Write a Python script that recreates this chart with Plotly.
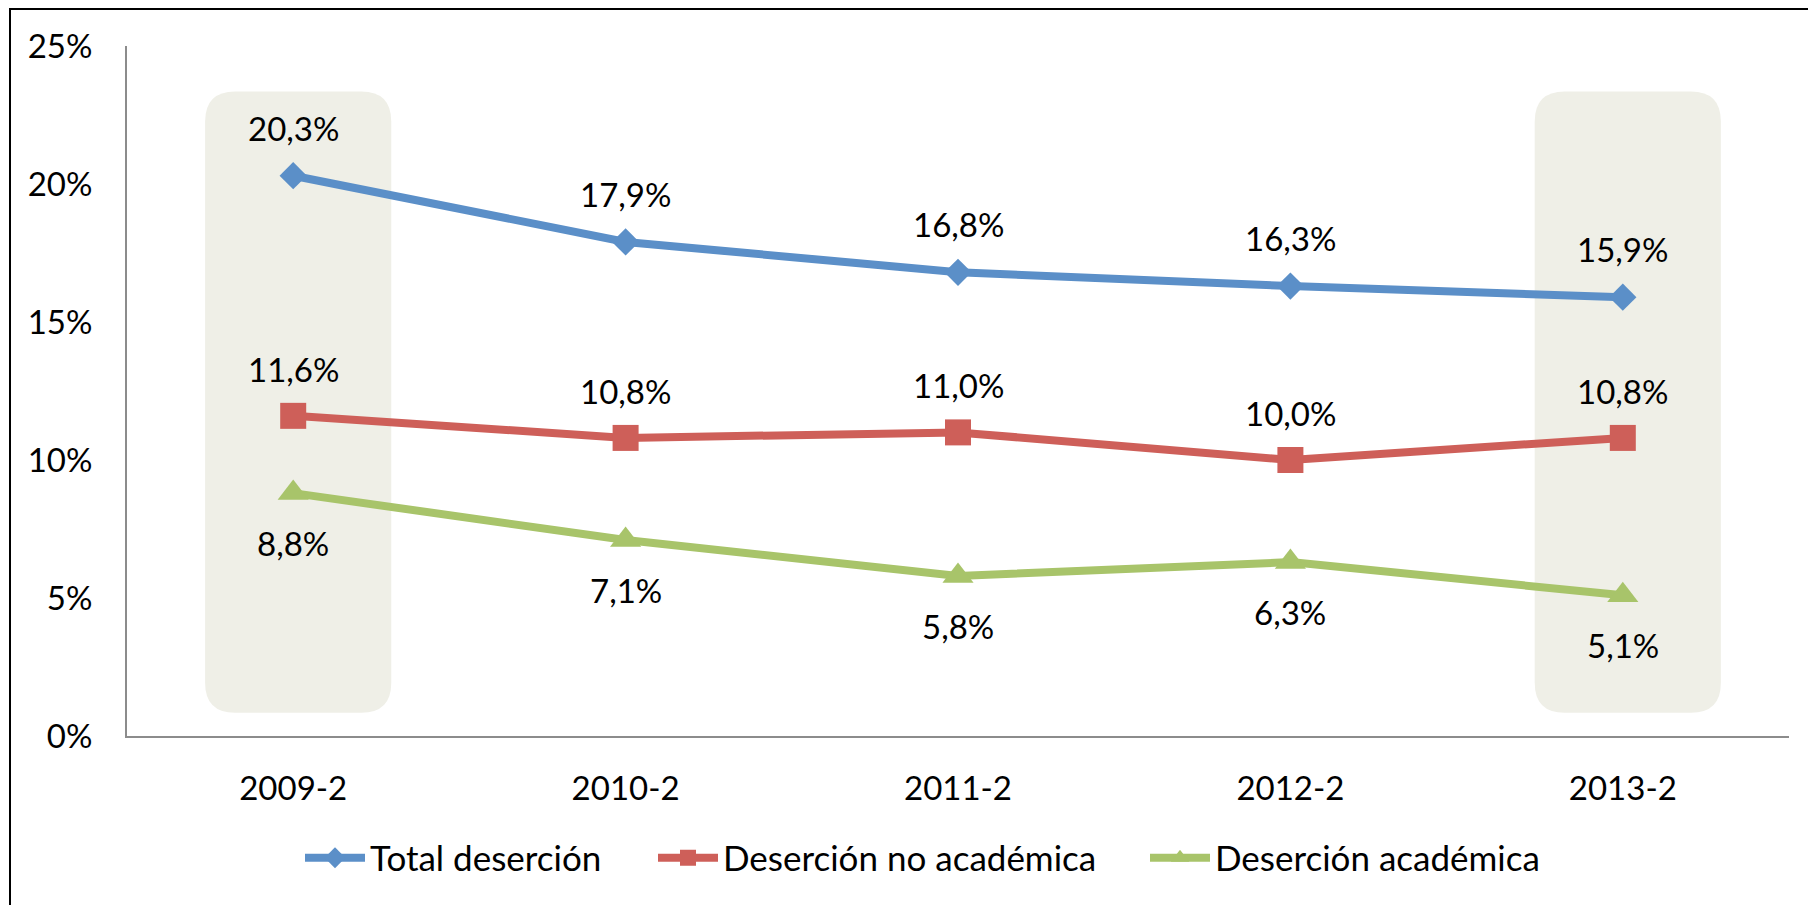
import plotly.graph_objects as go

categories = ["2009-2", "2010-2", "2011-2", "2012-2", "2013-2"]
total_desercion = [20.3, 17.9, 16.8, 16.3, 15.9]
desercion_no_academica = [11.6, 10.8, 11.0, 10.0, 10.8]
desercion_academica = [8.8, 7.1, 5.8, 6.3, 5.1]
y_ticks = [0, 5, 10, 15, 20, 25]
y_ticklabels = ["0%", "5%", "10%", "15%", "20%", "25%"]
highlighted = ["2009-2", "2013-2"]

FONT = "Lato"
FS = 33
OFF = 8  # page body margin
W, H = 1816, 905
L, T = 127 - OFF, 46 - OFF
PW, PH = 1662, 690
R, B = W - L - PW, H - T - PH

series = [
    ("Total deserción", total_desercion, "#5B8FC8", "diamond", 21, 48, "legend", 300),
    ("Deserción no académica", desercion_no_academica, "#CE5F59", "square", 26, 47, "legend2", 653),
    ("Deserción académica", desercion_academica, "#A8C46A", "triangle-up", 27, -50, "legend3", 1145),
]

xs = list(range(len(categories)))
fig = go.Figure()
annotations = []
legends = {}
leg_y = (-(858 - OFF - (T + PH))) / PH
for name, vals, color, sym, msize, shift, leg, leg_px in series:
    fig.add_trace(go.Scatter(
        x=xs, y=vals, name=name, mode="lines+markers",
        line=dict(color=color, width=8),
        marker=dict(symbol=sym, size=msize, color=color),
        legend=leg,
    ))
    legends[leg] = dict(x=(leg_px - OFF - L) / PW, xanchor="left", y=leg_y, yanchor="middle",
                        orientation="h", bgcolor="rgba(0,0,0,0)",
                        font=dict(family=FONT, size=35, color="black"), itemwidth=60)
    for xi, v in zip(xs, vals):
        annotations.append(dict(
            x=xi, y=v, text=f"{v:.1f}%".replace(".", ","), showarrow=False,
            yshift=shift, font=dict(family=FONT, size=FS, color="black"),
        ))

# rounded highlight rectangles
x_unit = PW / len(categories)
y_unit = PH / 25.0
rx, ry = 30 / x_unit, 30 / y_unit
half_w = 0.28
y0, y1 = 0.84, 23.35
shapes = []
for cat in highlighted:
    c = categories.index(cat) + 0.015
    a, b = c - half_w, c + half_w
    path = (f"M {a+rx},{y0} L {b-rx},{y0} Q {b},{y0} {b},{y0+ry} "
            f"L {b},{y1-ry} Q {b},{y1} {b-rx},{y1} L {a+rx},{y1} "
            f"Q {a},{y1} {a},{y1-ry} L {a},{y0+ry} Q {a},{y0} {a+rx},{y0} Z")
    shapes.append(dict(type="path", path=path, xref="x", yref="y",
                       fillcolor="#EFEFE7", line=dict(width=0), layer="below"))

# outer chart border
shapes.append(dict(type="rect", xref="paper", yref="paper",
                   x0=(10 - OFF - L) / PW, x1=1.05, y0=-0.35, y1=(PH + T - (9 - OFF)) / PH,
                   line=dict(color="black", width=2), fillcolor="rgba(0,0,0,0)"))

fig.update_layout(
    width=W, height=H,
    margin=dict(l=L, r=R, t=T, b=B, autoexpand=False),
    paper_bgcolor="white", plot_bgcolor="white",
    font=dict(family=FONT, size=FS, color="black"),
    showlegend=True,
    xaxis=dict(range=[-0.5, 4.5], tickvals=xs, ticktext=categories,
               showgrid=False, zeroline=False, showline=True,
               linecolor="#8C8C8C", linewidth=2, ticks="", automargin=False,
               ticklabelstandoff=22, fixedrange=True),
    yaxis=dict(range=[0, 25], tickvals=y_ticks, ticktext=y_ticklabels,
               showgrid=False, zeroline=False, showline=True,
               linecolor="#8C8C8C", linewidth=2, ticks="", automargin=False,
               ticklabelstandoff=26, fixedrange=True),
    annotations=annotations,
    shapes=shapes,
    **legends,
)

fig.write_html("out.html")
